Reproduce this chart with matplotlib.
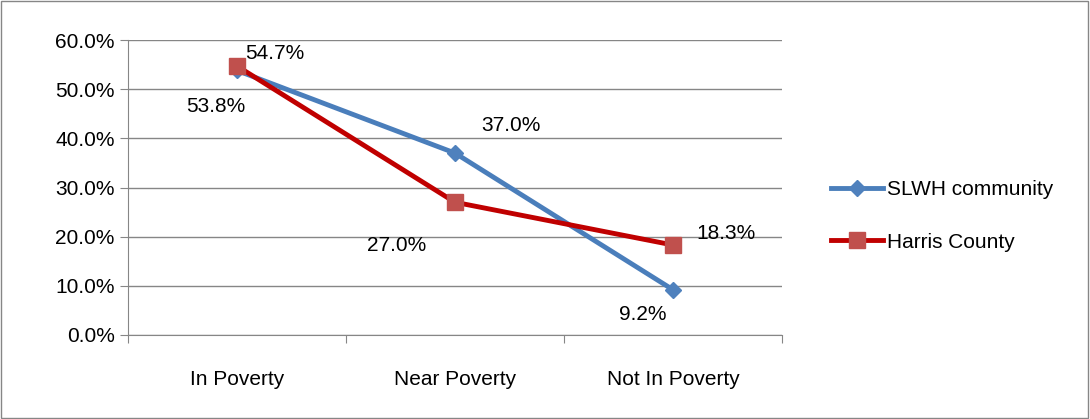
import matplotlib
matplotlib.use("Agg")
import matplotlib.pyplot as plt
from matplotlib.ticker import FuncFormatter

categories = ["In Poverty", "Near Poverty", "Not In Poverty"]
slwh = [53.8, 37.0, 9.2]
harris = [54.7, 27.0, 18.3]
yticks = [0, 10, 20, 30, 40, 50, 60]

plt.rcParams['font.family'] = ['Liberation Sans', 'DejaVu Sans']
fig = plt.figure(figsize=(10.9, 4.19), dpi=100)
ax = fig.add_axes([128/1090, 1-335/419, 654/1090, 295/419])
x = [0.5, 1.5, 2.5]
ax.plot(x, slwh, color='#4A7EBB', lw=3.5, marker='D', ms=8, mfc='#4F81BD', mec='#4F81BD', label='SLWH community', zorder=3)
ax.plot(x, harris, color='#C00000', lw=3.5, marker='s', ms=12, mfc='#C0504D', mec='#C0504D', label='Harris County', zorder=4)
ax.set_xlim(0, 3)
ax.set_ylim(0, 60)
ax.set_yticks(yticks)
ax.yaxis.set_major_formatter(FuncFormatter(lambda v, p: f"{v:.1f}%"))
ax.set_xticks([0, 1, 2, 3], minor=False)
ax.set_xticklabels([])
ax.set_xticks(x, minor=True)
ax.set_xticklabels(categories, minor=True, fontsize=15)
ax.tick_params(axis='x', which='minor', length=0, pad=25)
ax.tick_params(axis='x', which='major', length=6, direction='out', color='#868686')
ax.tick_params(axis='y', labelsize=15, length=6, color='#868686')
ax.grid(axis='y', color='#868686', lw=1)
for s in ['top', 'right']:
    ax.spines[s].set_visible(False)
for s in ['left', 'bottom']:
    ax.spines[s].set_color('#868686')
ax.set_axisbelow(True)

fs = 15
ax.annotate(f"{slwh[0]:.1f}%", (x[0], slwh[0]), xytext=(-15, -30), textcoords='offset points', ha='center', fontsize=fs)
ax.annotate(f"{slwh[1]:.1f}%", (x[1], slwh[1]), xytext=(40, 16), textcoords='offset points', ha='center', fontsize=fs)
ax.annotate(f"{slwh[2]:.1f}%", (x[2], slwh[2]), xytext=(-22, -22), textcoords='offset points', ha='center', fontsize=fs)
ax.annotate(f"{harris[0]:.1f}%", (x[0], harris[0]), xytext=(27, 5), textcoords='offset points', ha='center', fontsize=fs)
ax.annotate(f"{harris[1]:.1f}%", (x[1], harris[1]), xytext=(-42, -35), textcoords='offset points', ha='center', fontsize=fs)
ax.annotate(f"{harris[2]:.1f}%", (x[2], harris[2]), xytext=(38, 4), textcoords='offset points', ha='center', fontsize=fs)

fig.legend(loc='center left', bbox_to_anchor=(812/1090, 1-216/419), frameon=False, fontsize=15,
           handlelength=2.5, handletextpad=0.2, labelspacing=1.6)
fig.patches.append(plt.Rectangle((0.001, 0.002), 0.997, 0.995, transform=fig.transFigure, fill=False, ec='#868686', lw=1))
fig.savefig("out.png", dpi=100)
